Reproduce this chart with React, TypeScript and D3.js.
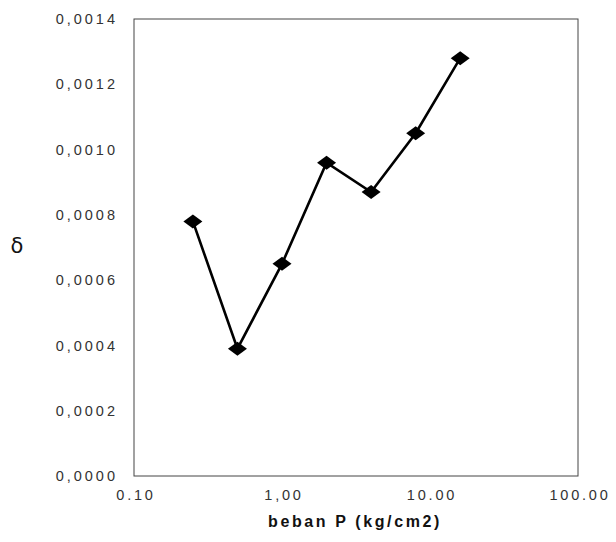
import React from 'react';
import * as d3 from 'd3';

// load steps (kg/cm2) and measured delta
const loads = [0.25, 0.5, 1, 2, 4, 8, 16];
const deltas = [0.00078, 0.00039, 0.00065, 0.00096, 0.00087, 0.00105, 0.00128];

const yTicks = [0, 0.0002, 0.0004, 0.0006, 0.0008, 0.001, 0.0012, 0.0014];
const yTickLabels = ['0,0000', '0,0002', '0,0004', '0,0006', '0,0008', '0,0010', '0,0012', '0,0014'];
const xTicks = [0.1, 1, 10, 100];
const xTickLabels = ['0.10', '1,00', '10.00', '100.00'];

const App = () => {
  const margin = { top: 19, right: 38, bottom: 66, left: 134 };
  const width = 616, height = 542;
  const innerW = width - margin.left - margin.right;
  const innerH = height - margin.top - margin.bottom;

  const x = d3.scaleLog().domain([0.1, 100]).range([0, innerW]);
  const y = d3.scaleLinear().domain([0, 0.0014]).range([innerH, 0]);

  const line = d3.line<number>()
    .x((d, i) => x(loads[i]))
    .y(d => y(d));

  const font = 'Arial, "Liberation Sans", sans-serif';

  return (
    <svg width={width} height={height} style={{ position: 'absolute', left: 0, top: 0, background: '#fff' }}>
      <g transform={`translate(${margin.left},${margin.top})`}>
        {/* frame */}
        <rect x={0} y={0} width={innerW} height={innerH} fill="none" stroke="#444" strokeWidth={1} />

        {/* y tick labels */}
        {yTicks.map((t, i) => (
          <text key={t} x={-16} y={y(t)} dy="0.35em" textAnchor="end"
            fontFamily={font} fontSize={14.5} letterSpacing={3} fill="#333">
            {yTickLabels[i]}
          </text>
        ))}

        {/* x tick labels */}
        {xTicks.map((t, i) => (
          <text key={t} x={x(t) + 2} y={innerH + 24} textAnchor="middle"
            fontFamily={font} fontSize={14.5} letterSpacing={2.8} fill="#333">
            {xTickLabels[i]}
          </text>
        ))}

        <path d={line(deltas) || ''} fill="none" stroke="#000" strokeWidth={2.6} />

        {deltas.map((d, i) => (
          <path key={i}
            d="M0,-7 L9.5,0 L0,7 L-9.5,0 Z"
            transform={`translate(${x(loads[i])},${y(d)})`}
            fill="#000" />
        ))}
      </g>

      <text x={17} y={246} dy="0.35em" textAnchor="middle" fontFamily='"DejaVu Sans", sans-serif'
        fontSize={21} fill="#111">δ</text>
      <text x={355} y={527} textAnchor="middle" fontFamily={font} fontSize={16} fontWeight="bold"
        letterSpacing={2.6} fill="#111">beban P (kg/cm2)</text>
    </svg>
  );
};

export default App;
